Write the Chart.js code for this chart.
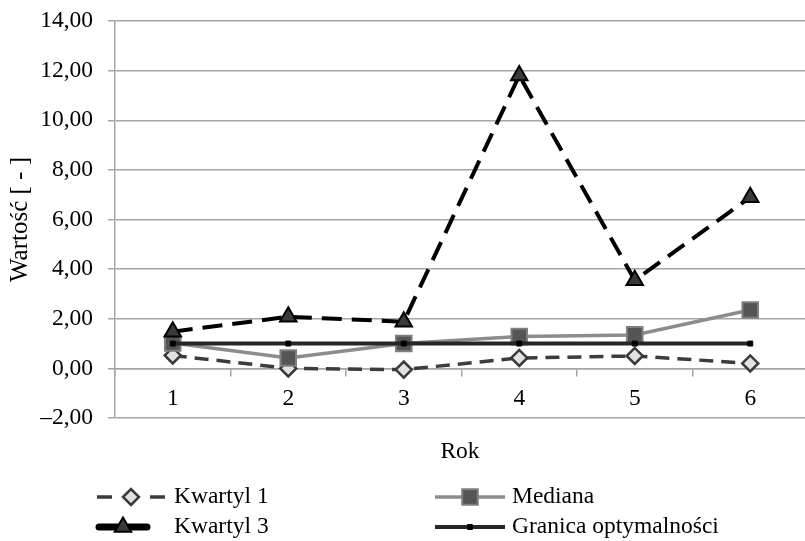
<!DOCTYPE html>
<html lang="pl">
<head>
    <meta charset="UTF-8">
    <title>Wartość [ - ] – Rok</title>
    <script src="https://cdn.jsdelivr.net/npm/chart.js@4.4.0/dist/chart.umd.min.js"></script>
    <style>
        html, body { margin: 0; padding: 0; background: #fff; overflow: hidden; }
        #wrap { width: 821px; height: 541px; position: relative; }
    </style>
</head>
<body>
    <div id="wrap"><canvas id="chart"></canvas></div>

    <script>
        const years = ['1', '2', '3', '4', '5', '6'];
        const kwartyl1 = [0.52, 0.00, -0.05, 0.42, 0.50, 0.20];
        const mediana = [1.02, 0.42, 1.00, 1.28, 1.35, 2.35];
        const kwartyl3 = [1.48, 2.08, 1.88, 11.80, 3.55, 6.90];
        const granica = [1.00, 1.00, 1.00, 1.00, 1.00, 1.00];
        const yTicks = [-2, 0, 2, 4, 6, 8, 10, 12, 14];

        const FONT = 'Liberation Serif, Times New Roman, serif';
        const FSIZE = 23.5;
        const GRID = '#a6a6a6';

        function fmt(v) {
            const s = Math.abs(v).toFixed(2).replace('.', ',');
            return v < 0 ? '\u2013' + s : s;
        }

        // legend is laid out by hand in two columns under the axis title
        const legendLayout = [
            { ds: 0, x0: 97, x1: 165, tx: 174, y: 497, dash: [15, 38] },
            { ds: 1, x0: 435, x1: 505, tx: 512, y: 497, dash: [] },
            { ds: 2, x0: 99, x1: 147, tx: 174, y: 527, dash: [], width: 7 },
            { ds: 3, x0: 435, x1: 505, tx: 512, y: 527, dash: [] }
        ];

        const bottomPlugin = {
            id: 'bottomLegend',
            afterDraw(chart) {
                const ctx = chart.ctx;
                ctx.save();
                ctx.font = FSIZE + 'px ' + FONT;
                ctx.fillStyle = '#000';
                ctx.textAlign = 'center';
                ctx.textBaseline = 'middle';
                ctx.fillText('Rok', 460, 452);

                legendLayout.forEach(item => {
                    const ds = chart.data.datasets[item.ds];
                    const mid = (item.x0 + item.x1) / 2;
                    ctx.save();
                    ctx.strokeStyle = ds.borderColor;
                    ctx.lineWidth = item.width || ds.borderWidth;
                    ctx.lineCap = item.width ? 'round' : 'butt';
                    ctx.setLineDash(item.dash);
                    ctx.beginPath();
                    ctx.moveTo(item.x0, item.y);
                    ctx.lineTo(item.x1, item.y);
                    ctx.stroke();
                    ctx.restore();

                    ctx.save();
                    ctx.fillStyle = ds.pointBackgroundColor;
                    ctx.strokeStyle = ds.pointBorderColor;
                    ctx.lineWidth = ds.pointBorderWidth;
                    Chart.helpers.drawPoint(ctx, {
                        pointStyle: ds.pointStyle,
                        radius: ds.pointRadius,
                        rotation: 0,
                        borderWidth: ds.pointBorderWidth
                    }, mid, item.y);
                    ctx.restore();

                    ctx.font = FSIZE + 'px ' + FONT;
                    ctx.fillStyle = '#000';
                    ctx.textAlign = 'left';
                    ctx.textBaseline = 'middle';
                    ctx.fillText(ds.label, item.tx, item.y);
                });
                ctx.restore();
            }
        };

        new Chart(document.getElementById('chart'), {
            type: 'line',
            data: {
                labels: years,
                datasets: [
                    {
                        label: 'Kwartyl 1',
                        data: kwartyl1,
                        borderColor: '#3c3c3c',
                        borderWidth: 3.5,
                        borderDash: [14, 8],
                        pointStyle: 'rectRot',
                        pointRadius: 8,
                        pointBackgroundColor: '#e2e2e2',
                        pointBorderColor: '#3a3a3a',
                        pointBorderWidth: 2.5,
                        order: 3
                    },
                    {
                        label: 'Mediana',
                        data: mediana,
                        borderColor: '#8c8c8c',
                        borderWidth: 3.5,
                        pointStyle: 'rect',
                        pointRadius: 11,
                        pointBackgroundColor: '#555555',
                        pointBorderColor: '#7f7f7f',
                        pointBorderWidth: 2,
                        order: 2
                    },
                    {
                        label: 'Kwartyl 3',
                        data: kwartyl3,
                        borderColor: '#000000',
                        borderWidth: 4,
                        borderDash: [20, 10],
                        pointStyle: 'triangle',
                        pointRadius: 9.5,
                        pointBackgroundColor: '#3a3a3a',
                        pointBorderColor: '#000000',
                        pointBorderWidth: 2,
                        order: 1
                    },
                    {
                        label: 'Granica optymalności',
                        data: granica,
                        borderColor: '#262626',
                        borderWidth: 4,
                        pointStyle: 'rect',
                        pointRadius: 3.5,
                        pointBackgroundColor: '#000000',
                        pointBorderColor: '#000000',
                        pointBorderWidth: 1,
                        order: 0
                    }
                ]
            },
            options: {
                responsive: true,
                maintainAspectRatio: false,
                animation: false,
                layout: { padding: { top: 21, bottom: 123, left: 0, right: 0 } },
                plugins: {
                    legend: { display: false },
                    tooltip: { enabled: false }
                },
                elements: { line: { tension: 0 } },
                scales: {
                    x: {
                        position: { y: 0 },
                        offset: true,
                        grid: {
                            offset: true,
                            drawOnChartArea: false,
                            drawTicks: true,
                            tickLength: 7,
                            color: GRID,
                            lineWidth: 1.5
                        },
                        border: { display: true, color: GRID, width: 1.5 },
                        ticks: {
                            color: '#000',
                            padding: 9,
                            maxRotation: 0,
                            font: { family: FONT, size: FSIZE }
                        }
                    },
                    y: {
                        min: -2,
                        max: 14,
                        afterBuildTicks(scale) {
                            scale.ticks = yTicks.map(v => ({ value: v }));
                        },
                        afterFit(scale) {
                            scale.width = 115;
                            // the wide tick padding should not push the plot down
                            scale.paddingTop = 0;
                            scale.paddingBottom = 0;
                        },
                        grid: {
                            color: GRID,
                            lineWidth: 1.5,
                            tickLength: 7
                        },
                        border: { color: GRID, width: 1.5 },
                        ticks: {
                            color: '#000',
                            padding: 15,
                            font: { family: FONT, size: FSIZE },
                            callback: v => fmt(v)
                        },
                        title: {
                            display: true,
                            text: 'Wartość [ - ]',
                            color: '#000',
                            padding: { top: 5, bottom: 0 },
                            font: { family: FONT, size: 25 }
                        }
                    }
                }
            },
            plugins: [bottomPlugin]
        });
    </script>
</body>
</html>
